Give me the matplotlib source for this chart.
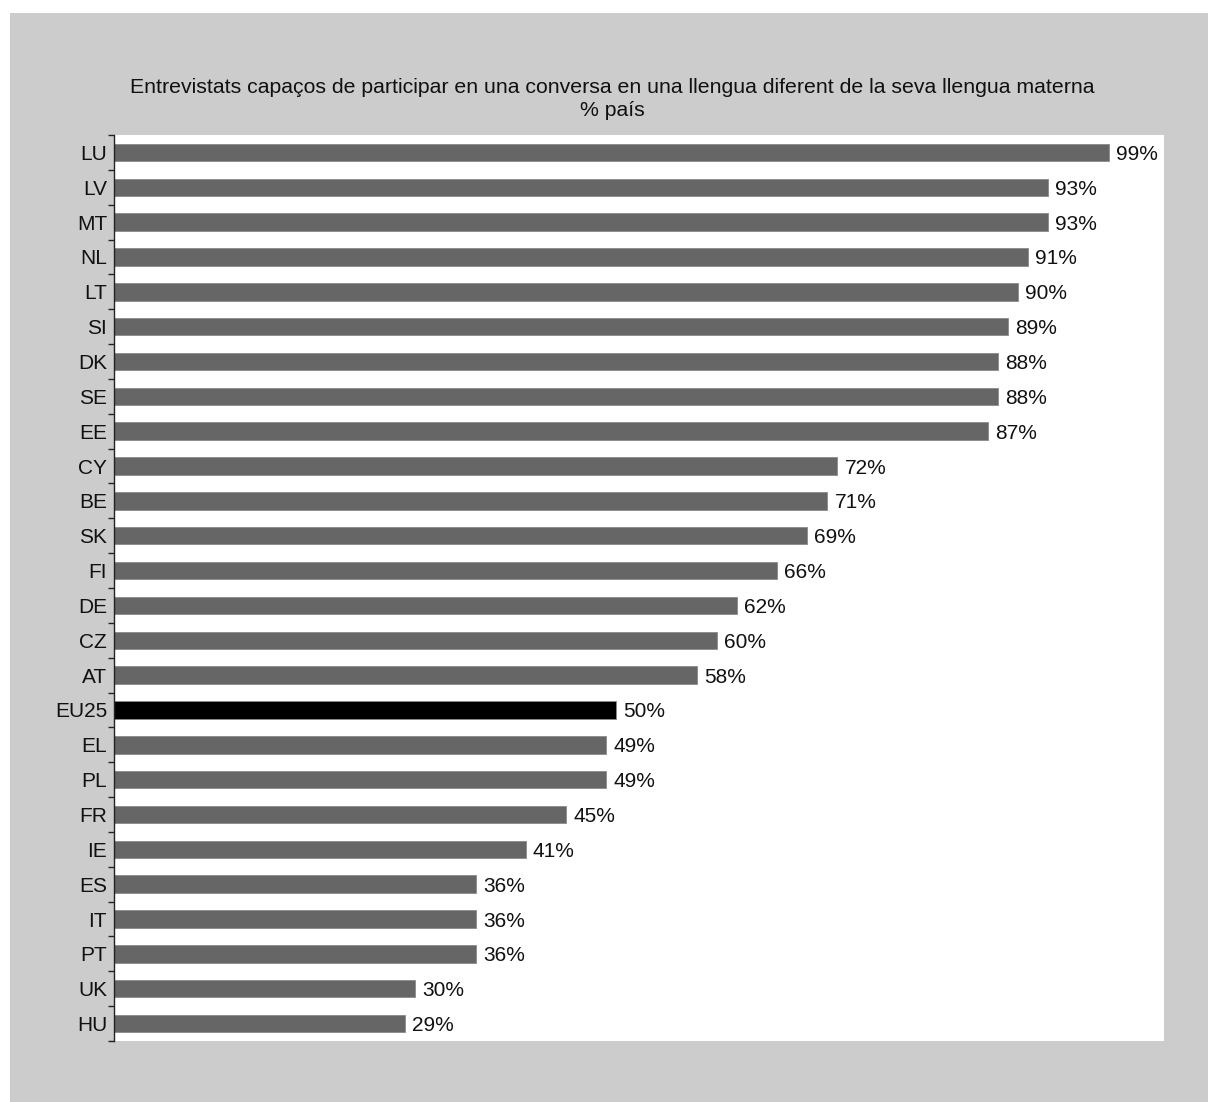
import matplotlib

matplotlib.use("Agg")
import matplotlib.pyplot as plt
from matplotlib.patches import Rectangle
import numpy as np

plt.rcParams["font.family"] = ["Liberation Sans", "DejaVu Sans"]

countries = ["LU", "LV", "MT", "NL", "LT", "SI", "DK", "SE", "EE", "CY", "BE",
             "SK", "FI", "DE", "CZ", "AT", "EU25", "EL", "PL", "FR", "IE", "ES",
             "IT", "PT", "UK", "HU"]
values = [99, 93, 93, 91, 90, 89, 88, 88, 87, 72, 71, 69, 66, 62, 60, 58, 50,
          49, 49, 45, 41, 36, 36, 36, 30, 29]
highlight = "EU25"

title = ("Entrevistats capaços de participar en una conversa en una llengua "
         "diferent de la seva llengua materna\n% país")

W, H = 1208, 1102
fig = plt.figure(figsize=(W / 100, H / 100), dpi=100, facecolor="white")
# grey panel behind everything
fig.patches.append(Rectangle((10 / W, 0), 1 - 10 / W, 1 - 13 / H,
                             transform=fig.transFigure, facecolor="#cccccc",
                             edgecolor="none", zorder=-10))

ax = fig.add_axes([114 / W, 1 - 1041 / H, 1050 / W, 906 / H])
ax.set_facecolor("white")

n = len(countries)
y = np.arange(n)
colors = ["#000000" if c == highlight else "#666666" for c in countries]
ax.barh(y, values, height=0.5, color=colors, edgecolor="#8a8a8a", linewidth=0.6)

for yi, v in zip(y, values):
    ax.text(v + 0.7, yi, f"{v}%", va="center_baseline", ha="left", fontsize=15,
            color="#111111")

ax.set_xlim(0, 104.5)
ax.set_ylim(n - 0.5, -0.5)
ax.set_xticks([])
ax.set_yticks(y)
ax.set_yticklabels(countries, fontsize=15, color="#111111")
ax.tick_params(axis="y", which="major", length=0, pad=5)
ax.set_yticks(np.arange(n + 1) - 0.5, minor=True)
ax.tick_params(axis="y", which="minor", length=4, width=1, color="#222222")
for s in ["top", "right", "bottom"]:
    ax.spines[s].set_visible(False)
ax.spines["left"].set_color("#222222")
ax.spines["left"].set_linewidth(1)

fig.text(612 / W, 1 - 99 / H, title, ha="center", va="center", fontsize=15.3,
         linespacing=1.25, color="#111111")

fig.savefig("out.png", dpi=100, facecolor=fig.get_facecolor())
